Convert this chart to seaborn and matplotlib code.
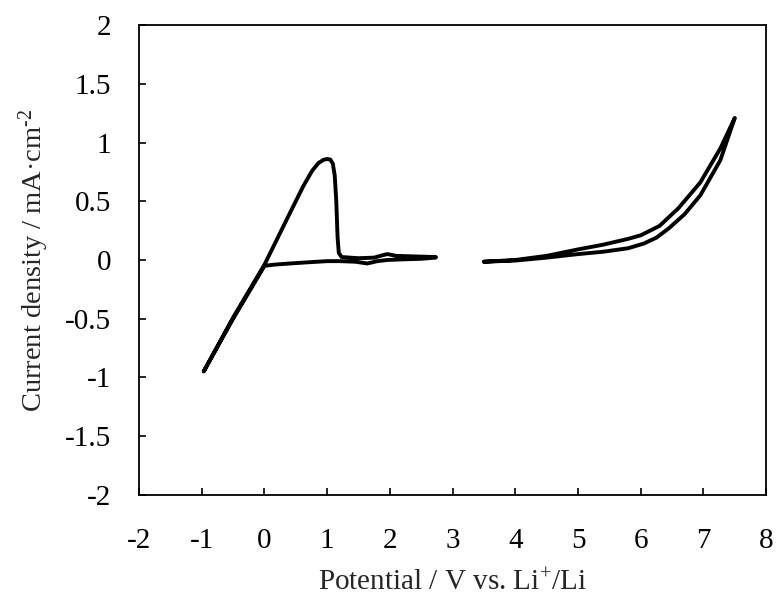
import numpy as np
import pandas as pd
import seaborn as sns
import matplotlib
matplotlib.use("Agg")
import matplotlib.pyplot as plt

# low potential scan (Li plating / stripping)
low_potential = [2.73, 2.5, 2.2, 1.96, 1.8, 1.64, 1.45, 1.2, 1.0, 0.69, 0.4, 0.15, 0.0,
                 -0.5, -0.97,
                 -0.5, 0.0, 0.35, 0.62, 0.76, 0.86, 0.94, 1.0, 1.05, 1.09, 1.12, 1.145, 1.165, 1.185, 1.23,
                 1.5, 1.75, 1.88, 1.96, 2.1, 2.4, 2.73]
low_current = [0.02, 0.01, 0.005, 0.0, -0.01, -0.03, -0.015, -0.01, -0.01, -0.02, -0.03, -0.04, -0.05,
               -0.5, -0.95,
               -0.49, -0.04, 0.34, 0.63, 0.76, 0.825, 0.853, 0.86, 0.855, 0.82, 0.72, 0.5, 0.2, 0.06, 0.025,
               0.015, 0.02, 0.04, 0.05, 0.035, 0.03, 0.025]

# high potential scan (oxidation stability)
high_potential = [3.5, 4.0, 4.5, 5.0, 5.4, 5.8, 6.05, 6.25, 6.45, 6.7, 6.95, 7.27, 7.5,
                  7.27, 6.95, 6.6, 6.3, 6.0, 5.8, 5.4, 5.0, 4.5, 4.0, 3.5]
high_current = [-0.015, -0.005, 0.02, 0.05, 0.07, 0.10, 0.14, 0.19, 0.27, 0.39, 0.55, 0.85, 1.21,
                0.95, 0.66, 0.44, 0.29, 0.21, 0.18, 0.13, 0.09, 0.035, 0.0, -0.015]

x_ticks = [-2, -1, 0, 1, 2, 3, 4, 5, 6, 7, 8]
x_labels = ["-2", "-1", "0", "1", "2", "3", "4", "5", "6", "7", "8"]
y_ticks = [-2, -1.5, -1, -0.5, 0, 0.5, 1, 1.5, 2]
y_labels = ["-2", "-1.5", "-1", "-0.5", "0", "0.5", "1", "1.5", "2"]

df_low = pd.DataFrame({"E": low_potential, "j": low_current})
df_high = pd.DataFrame({"E": high_potential, "j": high_current})

sns.set_style("ticks")
plt.rcParams["font.family"] = ["Liberation Serif", "DejaVu Serif"]
plt.rcParams["mathtext.fontset"] = "custom"
plt.rcParams["mathtext.rm"] = "Liberation Serif"
plt.rcParams["mathtext.default"] = "regular"
plt.rcParams["axes.unicode_minus"] = False

fig = plt.figure(figsize=(7.77, 5.99), dpi=100)
ax = fig.add_axes([0.179, 0.174, 0.807, 0.784])

for d in (df_low, df_high):
    sns.lineplot(data=d, x="E", y="j", sort=False, estimator=None, color="black",
                 linewidth=2.8, solid_capstyle="round", solid_joinstyle="round", ax=ax)

ax.set_xlim(-2, 8)
ax.set_ylim(-2, 2)
ax.set_xticks(x_ticks)
ax.set_xticklabels(x_labels)
ax.set_yticks(y_ticks)
ax.set_yticklabels(y_labels)
ax.tick_params(direction="in", length=5, width=1.2, labelsize=21, colors="black")
ax.tick_params(axis="x", pad=24)
ax.tick_params(axis="y", pad=20)
for s in ax.spines.values():
    s.set_visible(True)
    s.set_color("black")
    s.set_linewidth(1.3)

ax.set_xlabel("Potential / V vs. Li$^{+}$/Li", fontsize=21, labelpad=11)
ax.set_ylabel("Current density / mA\u00b7cm$^{\\text{-}2}$", fontsize=20.5, labelpad=10)

fig.savefig("out.png", dpi=100)
